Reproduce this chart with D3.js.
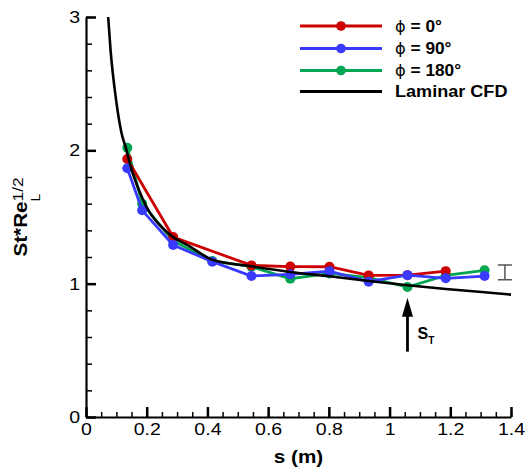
<!DOCTYPE html>
<html>
<head>
<meta charset="utf-8">
<script src="https://cdn.jsdelivr.net/npm/d3@7"></script>
<style>
  body { margin: 0; background: #fff; }
  text { font-family: "Liberation Sans", Arial, sans-serif; }
</style>
</head>
<body>
<svg id="chart" width="528" height="475"></svg>
<script>
// values
var sPhi0 = [0.136, 0.287, 0.545, 0.673, 0.802, 0.931, 1.059, 1.185];
var stPhi0 = [1.935, 1.35, 1.137, 1.128, 1.127, 1.062, 1.064, 1.094];

var sPhi90 = [0.136, 0.185, 0.287, 0.416, 0.545, 0.673, 0.802, 0.931, 1.059, 1.185, 1.313];
var stPhi90 = [1.865, 1.55, 1.29, 1.165, 1.057, 1.07, 1.094, 1.015, 1.064, 1.04, 1.057];

var sPhi180 = [0.136, 0.185, 0.287, 0.416, 0.545, 0.673, 0.802, 0.931, 1.059, 1.185, 1.313];
var stPhi180 = [2.02, 1.60, 1.32, 1.17, 1.127, 1.037, 1.077, 1.045, 0.975, 1.062, 1.10];

var sCfd = [0.073, 0.081, 0.099, 0.117, 0.131, 0.147, 0.188, 0.27, 0.342, 0.416, 0.545, 0.673, 0.802, 0.931, 1.059, 1.185, 1.313, 1.4];
var stCfd = [3.0, 2.75, 2.38, 2.13, 2.02, 1.88, 1.63, 1.38, 1.28, 1.18, 1.13, 1.088, 1.055, 1.02, 0.988, 0.96, 0.936, 0.918];

var xTicks = [0, 0.2, 0.4, 0.6, 0.8, 1, 1.2, 1.4];
var yTicks = [0, 1, 2, 3];

var legendLabels = ["0°", "90°", "180°"];

var errBar = [1.38, 1.03, 1.14];   // s, low, high
var transition = [1.059, 0.49, 0.895]; // s, arrow tail, arrow tip

var svg = d3.select("#chart");
var margin = {top: 17, right: 17, bottom: 58, left: 86};
var W = 528, H = 475;

var x = d3.scaleLinear().domain([0, 1.4]).range([margin.left, W - margin.right]);
var y = d3.scaleLinear().domain([0, 3]).range([H - margin.bottom, margin.top]);

var stretch = 1.15;

// minor ticks
svg.append("g")
    .attr("transform", "translate(0," + y(0) + ")")
    .call(d3.axisBottom(x).tickValues(d3.range(0, 1.4001, 0.05)).tickSize(-5).tickSizeOuter(0).tickFormat(""))
    .call(function(g){ g.select(".domain").remove(); g.selectAll("line").attr("stroke-width", 1.5); });
svg.append("g")
    .attr("transform", "translate(" + x(0) + ",0)")
    .call(d3.axisLeft(y).tickValues(d3.range(0, 3.001, 0.2)).tickSize(-6).tickSizeOuter(0).tickFormat(""))
    .call(function(g){ g.select(".domain").remove(); g.selectAll("line").attr("stroke-width", 1.5); });

// major ticks + labels
var xAxis = svg.append("g")
    .attr("transform", "translate(0," + y(0) + ")")
    .call(d3.axisBottom(x).tickValues(xTicks).tickSize(-10).tickSizeOuter(0).tickPadding(6).tickFormat(d3.format("~g")));
var yAxis = svg.append("g")
    .attr("transform", "translate(" + x(0) + ",0)")
    .call(d3.axisLeft(y).tickValues(yTicks).tickSize(-10).tickSizeOuter(0).tickPadding(6).tickFormat(d3.format("~g")));

[xAxis, yAxis].forEach(function(g){
  g.select(".domain").attr("stroke-width", 2.2);
  g.selectAll(".tick line").attr("stroke-width", 2.5);
  g.selectAll("text").attr("font-size", 17).attr("fill", "#000")
    .attr("font-family", "Liberation Sans, Arial, sans-serif");
});
xAxis.selectAll("text").attr("transform", "scale(" + stretch + ",1)");
yAxis.selectAll("text").attr("x", -6 / stretch).attr("transform", "scale(" + stretch + ",1)");

// axis titles
svg.append("text")
    .attr("transform", "translate(" + x(0.7) + ",463) scale(" + stretch + ",1)")
    .attr("text-anchor", "middle")
    .attr("font-size", 18).attr("font-weight", "bold")
    .text("s (m)");

var yt = svg.append("text")
    .attr("transform", "translate(27," + ((y(0) + y(3)) / 2) + ") rotate(-90) scale(" + stretch + ",1)")
    .attr("text-anchor", "middle")
    .attr("font-size", 18).attr("font-weight", "bold");
yt.append("tspan").text("St*Re");
yt.append("tspan").attr("font-size", 15).attr("font-weight", "normal").attr("dy", -4).text("1/2");
yt.append("tspan").attr("font-size", 12).attr("font-weight", "normal").attr("dx", -21).attr("dy", 17).text("L");

// series
var line = d3.line().x(function(d){ return x(d[0]); }).y(function(d){ return y(d[1]); });
var series = [
  {s: sPhi180, v: stPhi180, color: "#00a651"},
  {s: sPhi0, v: stPhi0, color: "#cc0000"},
  {s: sPhi90, v: stPhi90, color: "#3a3aff"}
];
series.forEach(function(sr){
  var pts = sr.s.map(function(s, i){ return [s, sr.v[i]]; });
  svg.append("path").datum(pts)
      .attr("d", line).attr("fill", "none")
      .attr("stroke", sr.color).attr("stroke-width", 2.8);
  svg.append("g").selectAll("circle").data(pts).enter().append("circle")
      .attr("cx", function(d){ return x(d[0]); })
      .attr("cy", function(d){ return y(d[1]); })
      .attr("r", 5).attr("fill", sr.color);
});

// laminar CFD
var cfd = sCfd.map(function(s, i){ return [s, stCfd[i]]; });
svg.append("path").datum(cfd)
    .attr("d", line.curve(d3.curveMonotoneX)).attr("fill", "none")
    .attr("stroke", "#000").attr("stroke-width", 2.6);

// uncertainty bar
var ex = x(errBar[0]);
svg.append("path")
    .attr("d", "M" + (ex - 7) + "," + y(errBar[2]) + "H" + (ex + 7) +
               "M" + ex + "," + y(errBar[2]) + "V" + y(errBar[1]) +
               "M" + (ex - 7) + "," + y(errBar[1]) + "H" + (ex + 7))
    .attr("fill", "none").attr("stroke", "#555").attr("stroke-width", 1.5);

// transition arrow
var ax = x(transition[0]);
svg.append("line")
    .attr("x1", ax).attr("x2", ax)
    .attr("y1", y(transition[1])).attr("y2", y(transition[2]) + 12)
    .attr("stroke", "#000").attr("stroke-width", 2.8);
svg.append("path")
    .attr("d", "M" + ax + "," + y(transition[2]) + "L" + (ax - 5.5) + "," + (y(transition[2]) + 19) +
               "L" + (ax + 5.5) + "," + (y(transition[2]) + 19) + "Z")
    .attr("fill", "#000");
var st = svg.append("text")
    .attr("x", ax + 10).attr("y", 339)
    .attr("font-size", 16).attr("font-weight", "bold");
st.append("tspan").text("S");
st.append("tspan").attr("font-size", 10).attr("dy", 5).text("T");

// legend
var legendColors = ["#cc0000", "#3a3aff", "#00a651"];
var lg = svg.append("g");
var rowY = [26, 48.5, 70.5, 91.5];
legendLabels.concat(["Laminar CFD"]).forEach(function(lab, i){
  var c = i < 3 ? legendColors[i] : "#000";
  lg.append("line").attr("x1", 300).attr("x2", 382)
    .attr("y1", rowY[i]).attr("y2", rowY[i])
    .attr("stroke", c).attr("stroke-width", 2.8);
  if (i < 3) {
    lg.append("circle").attr("cx", 341).attr("cy", rowY[i]).attr("r", 4.8).attr("fill", c);
  }
  var t = lg.append("text")
    .attr("transform", "translate(395," + (rowY[i] + 5.5) + ") scale(" + (i < 3 ? 1.08 : 1.13) + ",1)")
    .attr("font-size", 16).attr("font-weight", "bold");
  if (i < 3) {
    t.append("tspan").attr("font-weight", "normal").attr("font-family", "DejaVu Sans, sans-serif").attr("font-size", 15).text("ϕ");
    t.append("tspan").text(" = " + lab);
  } else {
    t.text(lab);
  }
});
</script>
</body>
</html>
